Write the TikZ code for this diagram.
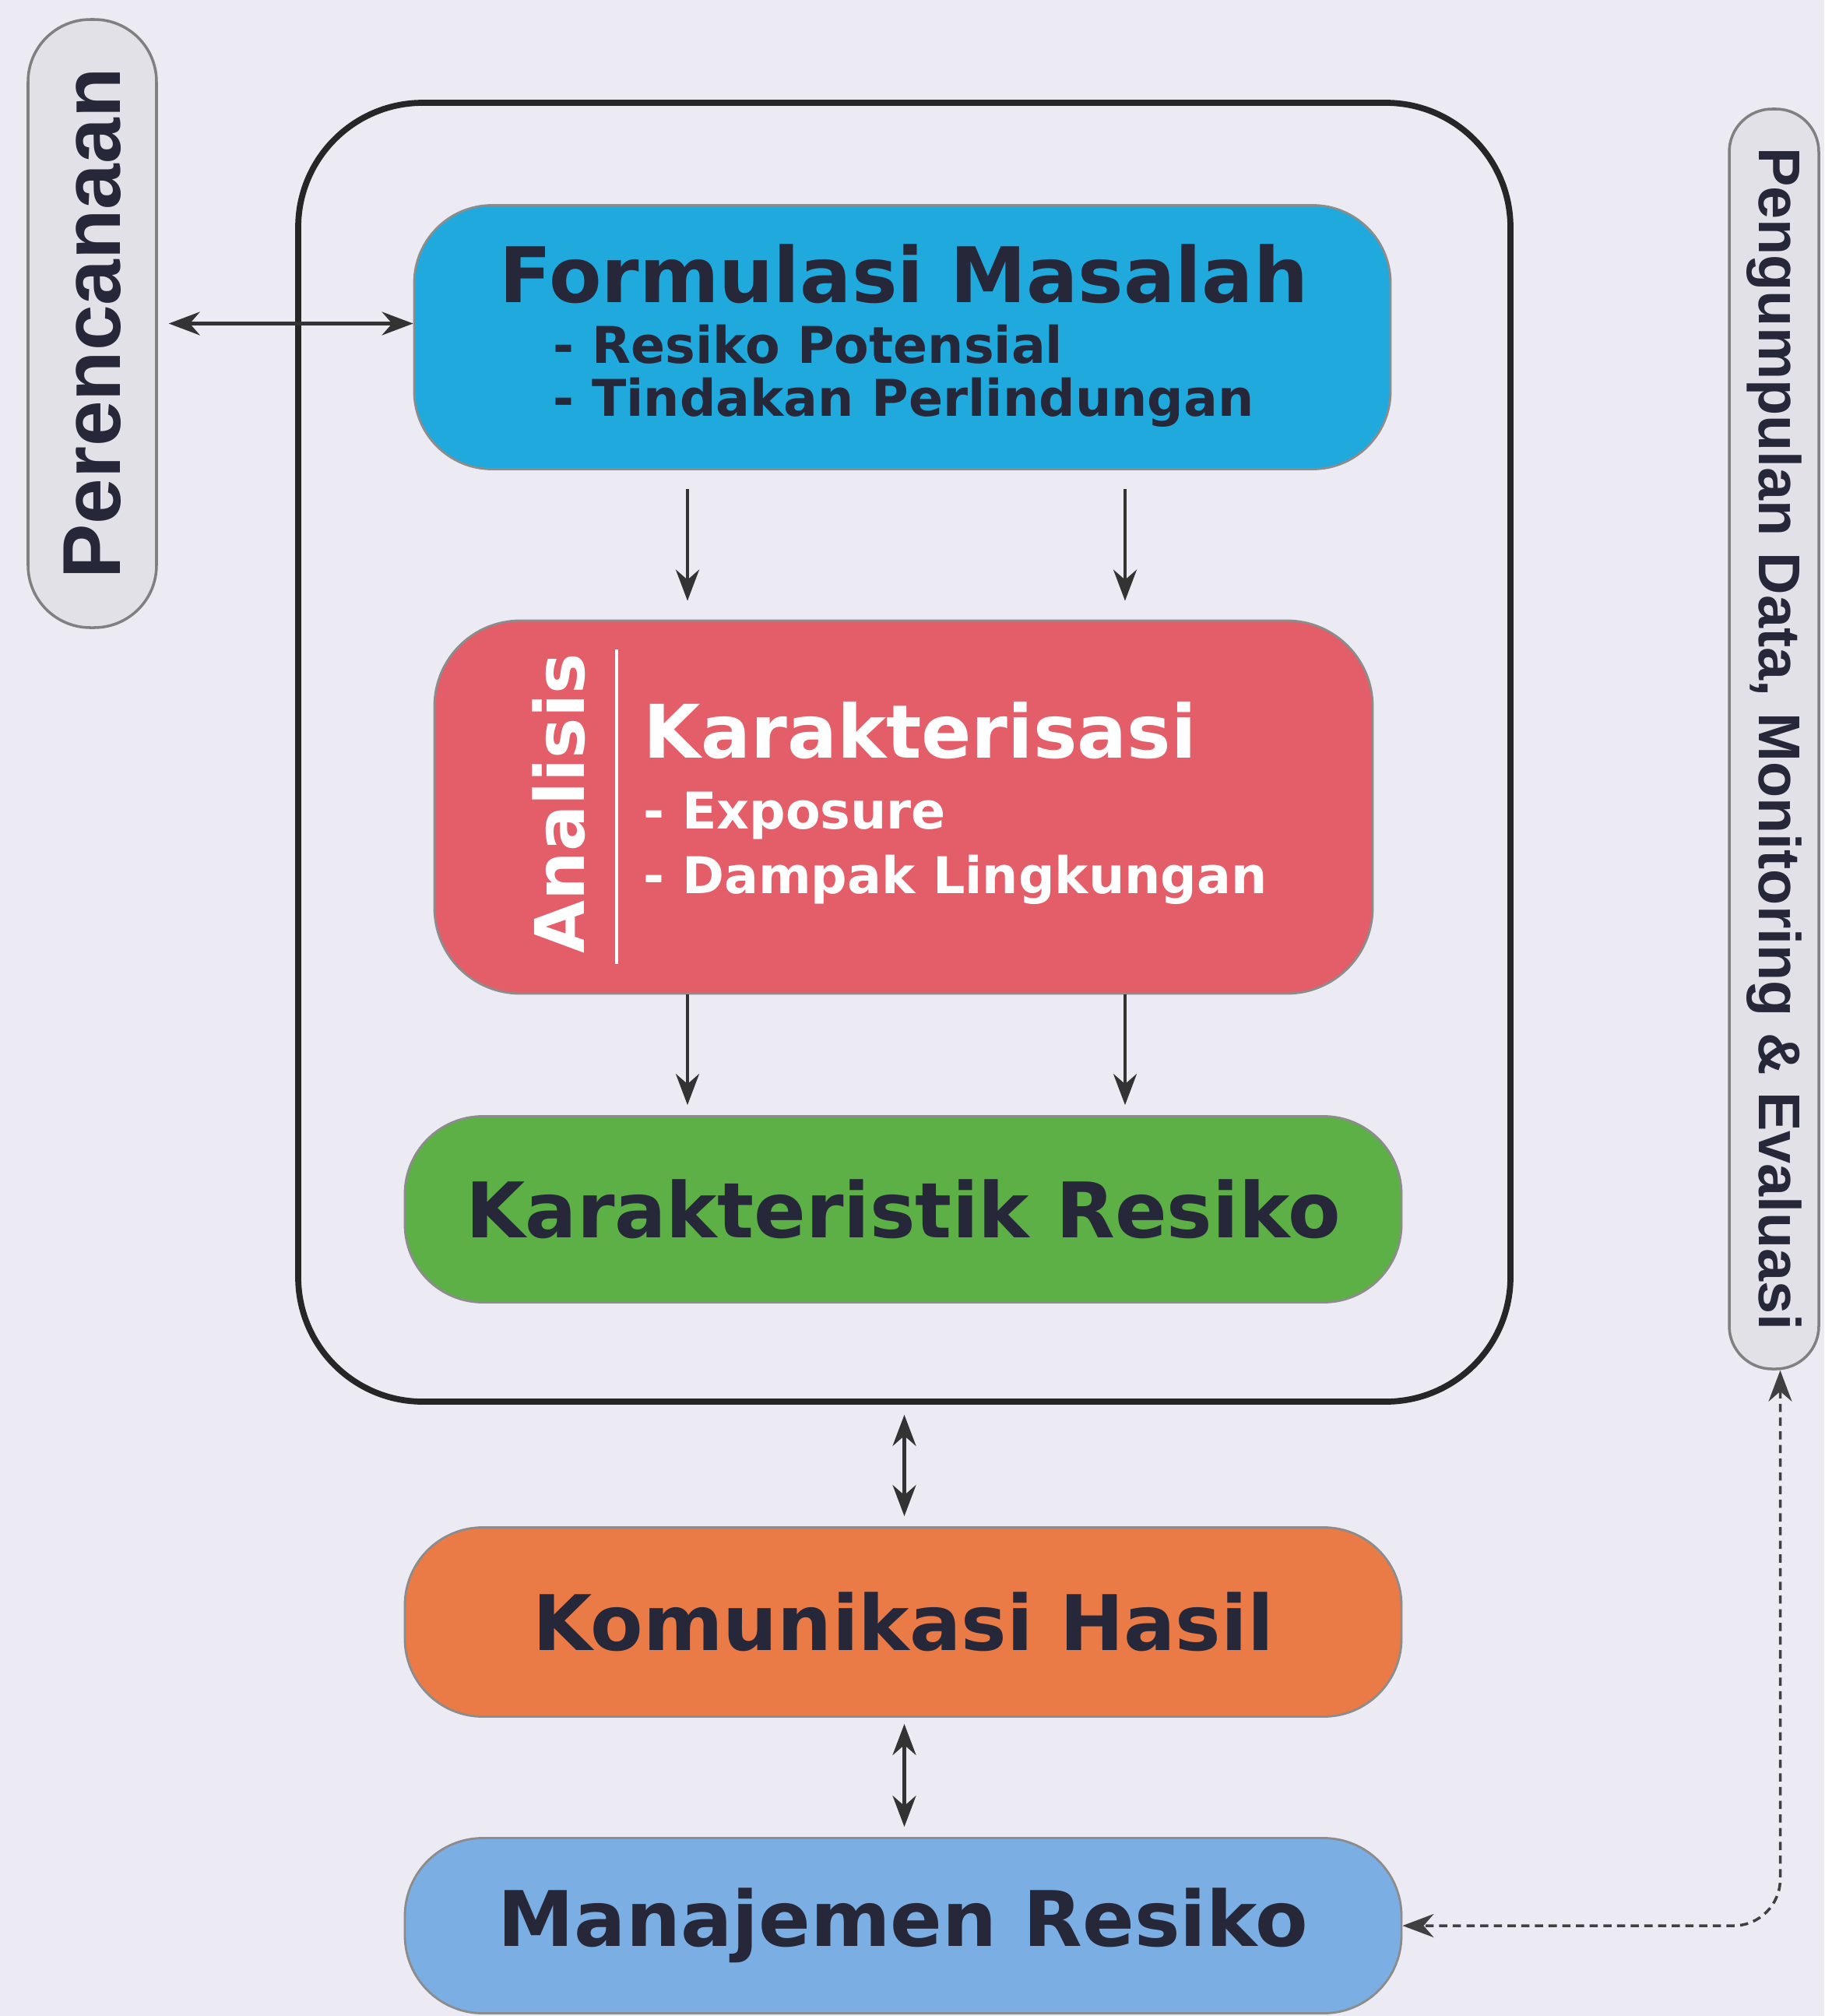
\documentclass[tikz,border=0pt]{standalone}
\usepackage{fontspec}
\setmainfont{DejaVu Sans}
\newfontfamily\sidefont{Liberation Sans}
\usetikzlibrary{arrows.meta,positioning}

\definecolor{bgcol}{HTML}{ECEBF3}
\definecolor{formcol}{HTML}{1FA9DD}
\definecolor{anacol}{HTML}{E35E68}
\definecolor{karcol}{HTML}{5DB045}
\definecolor{komcol}{HTML}{EB7B46}
\definecolor{mancol}{HTML}{7BAEE2}
\definecolor{sidecol}{HTML}{E1E1E7}
\definecolor{inkcol}{HTML}{26283A}

\begin{document}
\begin{tikzpicture}
[stage/.style={rounded corners=1cm,draw=black!45,line width=0.8pt,minimum width=12.8cm,text=inkcol,font=\fontsize{28}{32}\selectfont\bfseries},
 sidebox/.style={rounded corners=0.8cm,draw=black!50,fill=sidecol,line width=1pt,text=inkcol},
 item/.style={anchor=west,text=inkcol,font=\fontsize{18.5}{22}\selectfont\bfseries,inner sep=0pt},
 arr/.style={-{Stealth[length=0.4cm,width=0.3cm]},line width=1.3pt,draw=black!80},
 dblarr/.style={{Stealth[length=0.4cm,width=0.3cm]}-{Stealth[length=0.4cm,width=0.3cm]},line width=1.3pt,draw=black!80}]

\fill[bgcol] (0,0) rectangle (23.43,-25.89);
\useasboundingbox (0,0) rectangle (23.43,-25.89);

% big frame round the analysis part
\node[draw=black!85,line width=2.2pt,rounded corners=1.6cm,minimum width=15.57cm,minimum height=16.68cm] (frame) at (11.615,-9.66) {};

\node[sidebox,minimum width=1.65cm,minimum height=7.81cm] (plan) at (1.185,-4.155) {\rotatebox{90}{\sidefont\fontsize{30}{34}\selectfont\bfseries Perencanaan}};
\node[sidebox,rounded corners=0.55cm,minimum width=1.15cm,minimum height=16.18cm] (side) at (22.785,-9.49) {\rotatebox{-90}{\sidefont\fontsize{21.5}{25}\selectfont\bfseries Pengumpulan Data, Monitoring \& Evaluasi}};

\node[stage,fill=formcol,minimum width=12.54cm,minimum height=3.39cm] (fm) at (11.59,-4.33) {};
\node[text=inkcol,font=\fontsize{28}{32}\selectfont\bfseries] (fmtitle) at (11.61,-3.52) {Formulasi Masalah};
\node[item] (fm1) at (7.10,-4.42) {- Resiko Potensial};
\node[item] (fm2) at (7.10,-5.17) {- Tindakan Perlindungan};

\node[stage,fill=anacol,rounded corners=1.1cm,minimum width=12.05cm,minimum height=4.79cm] (ana) at (11.605,-10.365) {};
\draw[white,line width=1pt] (7.92,-8.34) -- (7.92,-12.38);
\node[rotate=90,text=white,font=\fontsize{25}{30}\selectfont\bfseries] (analabel) at (7.18,-10.32) {Analisis};
\node[item,text=white,font=\fontsize{27}{30}\selectfont\bfseries] (kartitle) at (8.26,-9.38) {Karakterisasi};
\node[item,text=white] (ana1) at (8.26,-10.48) {- Exposure};
\node[item,text=white] (ana2) at (8.26,-11.30) {- Dampak Lingkungan};

\node[stage,fill=karcol,minimum height=2.39cm] (kr) at (11.60,-15.53) {Karakteristik Resiko};
\node[stage,fill=komcol,minimum height=2.43cm] (kom) at (11.60,-20.83) {Komunikasi Hasil};
\node[stage,fill=mancol,minimum height=2.25cm] (mgmt) at (11.60,-24.73) {Manajemen Resiko};

\coordinate (colL) at (8.83,0);
\coordinate (colR) at (14.45,0);

\draw[dblarr,shorten <=0.14cm] (plan.east) -- (fm.west |- plan.east);
\draw[arr,shorten <=0.24cm,shorten >=0.24cm] (fm.south -| colL) -- (ana.north -| colL);
\draw[arr,shorten <=0.24cm,shorten >=0.24cm] (fm.south -| colR) -- (ana.north -| colR);
\draw[arr,shorten >=0.13cm] (ana.south -| colL) -- (kr.north -| colL);
\draw[arr,shorten >=0.13cm] (ana.south -| colR) -- (kr.north -| colR);
\draw[dblarr,shorten <=0.13cm,shorten >=0.13cm] (frame.south) -- (kom.north -| frame.south);
\draw[dblarr,shorten <=0.08cm,shorten >=0.13cm] (kom.south -| frame.south) -- (mgmt.north -| frame.south);
\draw[{Stealth[length=0.4cm,width=0.3cm]}-{Stealth[length=0.4cm,width=0.3cm]},densely dashed,line width=1pt,draw=black!75,rounded corners=0.6cm] ([xshift=0.08cm]side.south) |- (mgmt.east);
\end{tikzpicture}
\end{document}
